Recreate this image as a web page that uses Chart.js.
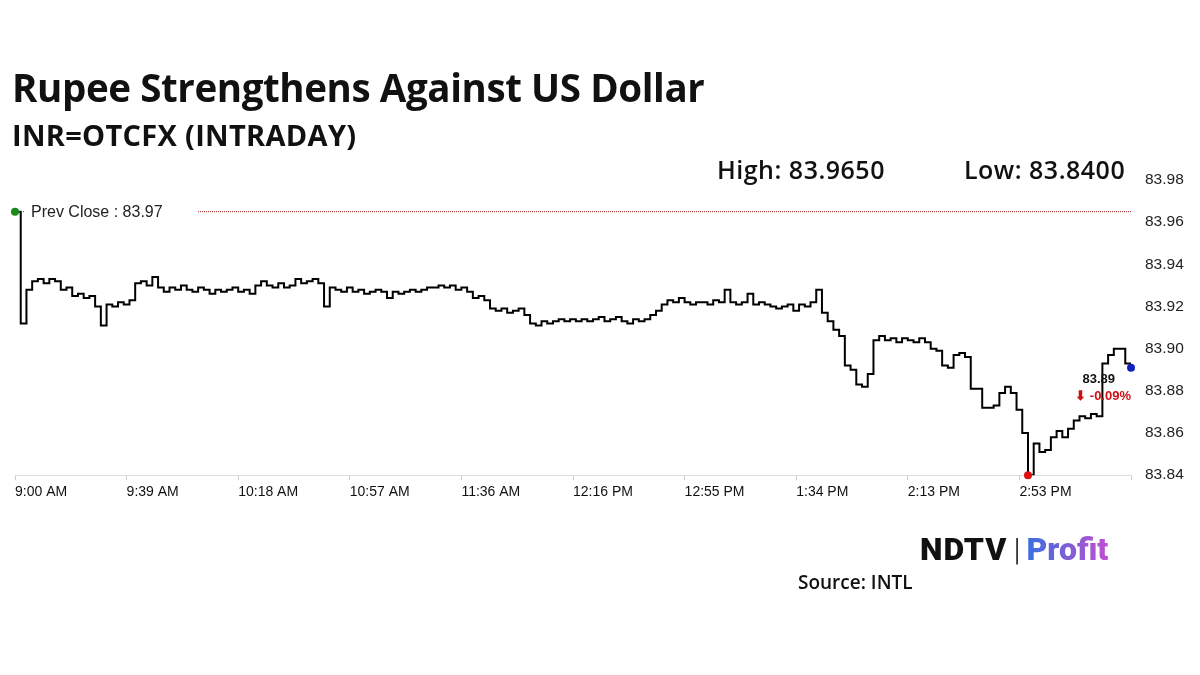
<!DOCTYPE html>
<html>
<head>
<meta charset="utf-8">
<script src="https://cdn.jsdelivr.net/npm/chart.js@4"></script>
<style>
  body { margin: 0; background: #fff; font-family: "Open Sans", sans-serif; }
  #wrap { position: relative; width: 1200px; height: 675px; overflow: hidden; }
  #chart { position: absolute; left: 0; top: 0; }
  .t { position: absolute; color: #111; font-weight: 700; white-space: nowrap; }
  #title { left: 12px; top: 61px; font-size: 38.5px; letter-spacing: -0.4px; }
  #sub { left: 12px; top: 115px; font-size: 29px; font-weight: 700; letter-spacing: 0.3px; }
  #hi { left: 717px; top: 152px; font-size: 25px; font-weight: 600; letter-spacing: 0.5px; }
  #lo { left: 964px; top: 152px; font-size: 25px; font-weight: 600; letter-spacing: 0.5px; }
  #logo { left: 920px; top: 530px; font-size: 32px; font-family: Roboto, sans-serif; }
  #src { left: 798px; top: 569px; font-size: 19px; font-weight: 600; }
</style>
</head>
<body>
<div id="wrap">
  <canvas id="chart" width="1200" height="675"></canvas>
  <div class="t" id="title">Rupee Strengthens Against US Dollar</div>
  <div class="t" id="sub">INR=OTCFX (INTRADAY)</div>
  <div class="t" id="hi">High: 83.9650</div>
  <div class="t" id="lo">Low: 83.8400</div>
  <div class="t" id="logo"><span style="font-weight:900;letter-spacing:1px">NDTV</span><span style="font-weight:300;color:#111;margin:0 6px">|</span><span style="font-weight:900;background:linear-gradient(90deg,#3b6fe0,#c04fd0);-webkit-background-clip:text;color:transparent">Profit</span></div>
  <div class="t" id="src">Source: INTL</div>
</div>
<script>
// minutes after 9:00 AM, one reading every 2 minutes
const stepMinutes = 2;
const rates = [
  83.965, 83.912, 83.928, 83.932, 83.933, 83.931, 83.933, 83.932, 83.928, 83.929,
  83.925, 83.926, 83.924, 83.925, 83.920, 83.911, 83.921, 83.920, 83.922, 83.921,
  83.923, 83.931, 83.932, 83.930, 83.934, 83.929, 83.927, 83.929, 83.928, 83.930,
  83.928, 83.927, 83.929, 83.928, 83.926, 83.928, 83.927, 83.928, 83.929, 83.927,
  83.928, 83.926, 83.930, 83.932, 83.930, 83.929, 83.931, 83.929, 83.930, 83.933,
  83.931, 83.932, 83.933, 83.931, 83.920, 83.929, 83.928, 83.927, 83.929, 83.927,
  83.928, 83.926, 83.927, 83.928, 83.927, 83.924, 83.927, 83.926, 83.927, 83.928,
  83.927, 83.928, 83.929, 83.929, 83.930, 83.929, 83.930, 83.928, 83.929, 83.927,
  83.924, 83.925, 83.923, 83.919, 83.918, 83.919, 83.917, 83.918, 83.919, 83.916,
  83.912, 83.911, 83.913, 83.912, 83.913, 83.914, 83.913, 83.914, 83.913, 83.914,
  83.913, 83.914, 83.915, 83.913, 83.914, 83.915, 83.913, 83.912, 83.914, 83.913,
  83.914, 83.916, 83.918, 83.921, 83.923, 83.922, 83.924, 83.922, 83.921, 83.922,
  83.922, 83.921, 83.923, 83.922, 83.928, 83.922, 83.921, 83.922, 83.926, 83.921,
  83.922, 83.921, 83.920, 83.919, 83.920, 83.921, 83.918, 83.921, 83.920, 83.922,
  83.928, 83.917, 83.913, 83.909, 83.906, 83.892, 83.890, 83.883, 83.882, 83.888,
  83.904, 83.906, 83.904, 83.905, 83.903, 83.905, 83.904, 83.903, 83.905, 83.903,
  83.900, 83.899, 83.892, 83.891, 83.897, 83.898, 83.896, 83.881, 83.881, 83.872,
  83.872, 83.873, 83.879, 83.882, 83.879, 83.871, 83.860, 83.840, 83.855, 83.851,
  83.852, 83.858, 83.861, 83.858, 83.862, 83.866, 83.868, 83.867, 83.869, 83.868,
  83.893, 83.897, 83.900, 83.900, 83.893, 83.891
];
const tickLabels = ["9:00 AM", "9:39 AM", "10:18 AM", "10:57 AM", "11:36 AM", "12:16 PM",
                    "12:55 PM", "1:34 PM", "2:13 PM", "2:53 PM", ""];
const prevClose = 83.965;
const lastLabel = "83.89";
const changeLabel = "\u2B07 -0.09%";

const points = rates.map((v, i) => ({ x: i * stepMinutes, y: v }));
const minIdx = rates.indexOf(Math.min(...rates));

const overlay = {
  id: "overlay",
  afterDatasetsDraw(chart) {
    const { ctx, scales: { x, y } } = chart;
    ctx.save();
    // prev close dotted line
    const py = y.getPixelForValue(prevClose);
    ctx.strokeStyle = "#9b2020";
    ctx.lineWidth = 1;
    ctx.setLineDash([1, 1]);
    ctx.beginPath();
    ctx.moveTo(198, py); ctx.lineTo(x.right, py);
    ctx.moveTo(x.left, py); ctx.lineTo(x.left + 10, py);
    ctx.stroke();
    ctx.setLineDash([]);
    ctx.fillStyle = "#222";
    ctx.font = "16px 'Liberation Sans', Arial";
    ctx.textBaseline = "middle";
    ctx.fillText("Prev Close : 83.97", 31, py + 1);

    const dot = (px, pyy, c) => {
      ctx.fillStyle = c; ctx.beginPath(); ctx.arc(px, pyy, 4, 0, Math.PI * 2); ctx.fill();
    };
    dot(x.getPixelForValue(0), py, "#1a8a1a");
    dot(x.getPixelForValue(minIdx * stepMinutes), y.getPixelForValue(rates[minIdx]), "#e01010");
    const lx = x.getPixelForValue((rates.length - 1) * stepMinutes);
    const ly = y.getPixelForValue(rates[rates.length - 1]);
    dot(lx, ly, "#1020c0");

    ctx.textAlign = "right";
    ctx.font = "bold 13px 'Liberation Sans', Arial";
    ctx.fillStyle = "#111";
    ctx.fillText(lastLabel, lx - 16, ly + 12);
    ctx.fillStyle = "#d01010";
    ctx.fillText(changeLabel, lx, ly + 29);
    ctx.restore();
  }
};

new Chart(document.getElementById("chart"), {
  type: "line",
  data: {
    datasets: [{
      data: points,
      borderColor: "#000",
      borderWidth: 2,
      pointRadius: 0,
      stepped: "before",
      fill: false
    }]
  },
  options: {
    responsive: false,
    animation: false,
    layout: { padding: { left: 15, right: 10, top: 180, bottom: 170 } },
    plugins: { legend: { display: false }, tooltip: { enabled: false } },
    scales: {
      x: {
        type: "linear", min: 0, max: 390,
        grid: { drawOnChartArea: false, tickLength: 5, color: "#ccc" },
        border: { color: "#ddd" },
        ticks: {
          stepSize: 39, align: "start", maxRotation: 0, autoSkip: false,
          color: "#111", padding: 4,
          font: { size: 14, family: "'Liberation Sans', Arial" },
          callback: (v, i) => tickLabels[i] ?? ""
        }
      },
      y: {
        position: "right", min: 83.84, max: 83.98,
        grid: { display: false },
        border: { display: false },
        afterFit: s => { s.width = 59; },
        ticks: {
          stepSize: 0.02, color: "#222", padding: 6,
          font: { size: 15.5, family: "'Liberation Sans', Arial" },
          callback: v => v.toFixed(2)
        }
      }
    }
  },
  plugins: [overlay]
});
</script>
</body>
</html>
